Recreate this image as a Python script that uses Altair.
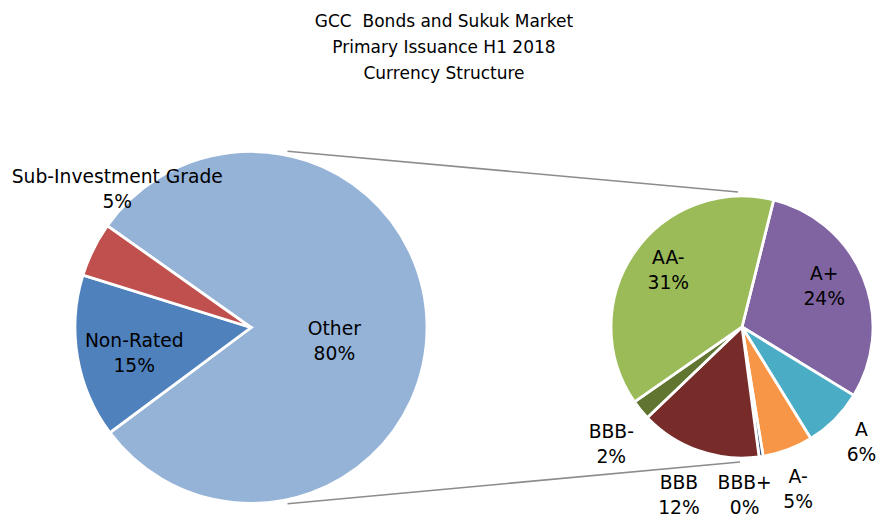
import math
import altair as alt
import pandas as pd

# ---------------- data ----------------
title_lines = ["GCC\u00a0 Bonds and Sukuk Market", "Primary Issuance H1 2018", "Currency Structure"]

left_cats = ["Other", "Non-Rated", "Sub-Investment Grade"]
left_vals = [80, 15, 5]
left_colors = ["#95B3D7", "#4F81BD", "#C0504D"]

right_cats = ["A+", "A", "A-", "BBB+", "BBB", "BBB-", "AA-"]
right_vals = [24, 6, 5, 0.4, 12, 2, 31]
right_colors = ["#8064A2", "#4BACC6", "#F79646", "#2C4D75", "#772C2A", "#5F7530", "#9BBB59"]

# ---------------- layout (canvas px) ----------------
LCX, LCY, LR = 243, 319.5, 176
RCX, RCY, RR = 734, 319, 131
L_START = 305.3   # degrees, clockwise from north
R_START = 14.0

# label placement: (radius as fraction of pie radius, angle shift in degrees)
left_lab = {"Other": (0.48, 10), "Non-Rated": (0.68, -3), "Sub-Investment Grade": (1.09, 19.5)}
right_lab = {"AA-": (0.71, 3), "A+": (0.70, -4), "A": (1.27, -0.8), "A-": (1.31, 1.4),
             "BBB+": (1.29, 7.5), "BBB": (1.37, 1.2), "BBB-": (1.34, -2.6)}

FONT = "DejaVu Sans"
color_scale = alt.Scale(domain=left_cats + right_cats, range=left_colors + right_colors)


def pie(cats, vals, lab, cx, cy, r, start):
    df = pd.DataFrame({
        "cat": cats, "value": vals, "order": list(range(len(cats))),
        "lr": [lab[c][0] * r for c in cats],
        "shift": [lab[c][1] for c in cats],
    })
    base = alt.Chart(df).transform_joinaggregate(
        total="sum(value)"
    ).transform_window(
        cum="sum(value)", sort=[alt.SortField("order")], frame=[None, 0]
    ).transform_calculate(
        t1=f"{math.radians(start)} + 2*PI*datum.cum/datum.total",
    ).transform_calculate(
        t0="datum.t1 - 2*PI*datum.value/datum.total",
    ).transform_calculate(
        tm="(datum.t0 + datum.t1)/2 + datum.shift*PI/180",
        label="datum.cat + '\\n' + format(datum.value, '.0f') + '%'",
    )
    arcs = base.mark_arc(outerRadius=r, stroke="white", strokeWidth=2.8).encode(
        x=alt.value(cx), y=alt.value(cy),
        theta=alt.Theta("t0:Q", scale=None, stack=None),
        theta2="t1:Q",
        color=alt.Color("cat:N", scale=color_scale, legend=None),
    )
    texts = base.mark_text(font=FONT, fontSize=18.7, lineBreak="\n", lineHeight=25,
                           baseline="middle", align="center", color="black",
                           dy=-12.5).encode(
        x=alt.value(cx), y=alt.value(cy),
        theta=alt.Theta("tm:Q", scale=None, stack=None),
        radius=alt.Radius("lr:Q", scale=None),
        text="label:N",
    )
    return alt.layer(arcs, texts)


left = pie(left_cats, left_vals, left_lab, LCX, LCY, LR, L_START)
right = pie(right_cats, right_vals, right_lab, RCX, RCY, RR, R_START)

# connector lines between the pies
ang = math.radians(11.7)
LRc = LR + 4
conn = pd.DataFrame({
    "x": [LCX + LRc * math.sin(ang), LCX + LRc * math.sin(ang)],
    "y": [LCY - LRc * math.cos(ang), LCY + LRc * math.cos(ang)],
    "x2": [RCX - 4, RCX - 2],
    "y2": [RCY - RR - 4, RCY + RR + 4],
})
lines = alt.Chart(conn).mark_rule(color="#8C8C8C", strokeWidth=1.6).encode(
    x=alt.X("x:Q", scale=None), y=alt.Y("y:Q", scale=None),
    x2="x2:Q", y2="y2:Q",
)

title = alt.Chart(pd.DataFrame({"t": ["\n".join(title_lines)]})).mark_text(
    font=FONT, fontSize=17, lineBreak="\n", lineHeight=26, baseline="top", align="center",
    color="black",
).encode(x=alt.value(436), y=alt.value(6), text="t:N")

chart = alt.layer(lines, left, right, title).properties(
    width=872, height=509, padding=0, autosize=alt.AutoSizeParams(type="none"),
).configure_view(stroke=None)

chart.save("out.html", embed_options={"renderer": "svg", "actions": False})
